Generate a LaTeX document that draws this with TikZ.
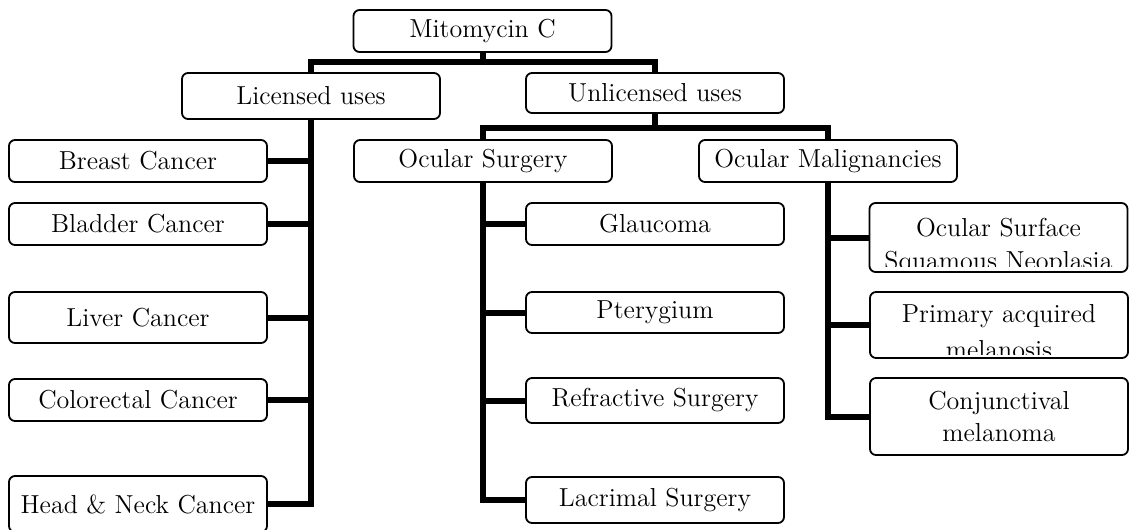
\documentclass[tikz,border=0pt]{standalone}
\usepackage{fontspec}
\tikzset{
	itembox/.style={rectangle,rounded corners=3pt,draw,line width=0.9pt,minimum width=129pt,minimum height=21pt,align=center,font=\fontsize{13}{16}\selectfont},
	boxtext/.style={anchor=base,font=\fontsize{13}{16}\selectfont},
	link/.style={line width=3pt}
}
\begin{document}
\begin{tikzpicture}[x=0.5pt,y=-0.5pt]
				\clip (0,0) rectangle (1132,530);
				
				\begin{scope}[every node/.style={itembox}]
					\node (mito) at (482.5,31) {Mitomycin C};
					\node[minimum height=23pt] (licensed) at (311,96) {Licensed uses};
					\node[minimum height=20pt] (unlicensed) at (655,93) {Unlicensed uses};
					\node (breast) at (138,161) {Breast Cancer};
					\node (bladder) at (138,224) {Bladder Cancer};
					\node[minimum height=25.5pt] (liver) at (138,317.5) {Liver Cancer};
					\node (colorectal) at (138,400) {Colorectal Cancer};
					\node[minimum height=28pt] (headneck) at (138,504) {Head \& Neck Cancer};
					\node (surgery) at (483,161) {Ocular Surgery};
					\node (malig) at (828,161) {Ocular Malignancies};
					\node (glaucoma) at (655,224) {Glaucoma};
					\node[minimum height=20.5pt] (pterygium) at (655,312.5) {Pterygium};
					\node[minimum height=22.5pt] (refractive) at (655,400.5) {Refractive Surgery};
					\node[minimum height=23pt] (lacrimal) at (655,500) {Lacrimal Surgery};
					\node[minimum height=34.5pt] (ossn) at (998.5,237.5) {};
					\node[minimum height=33pt] (pam) at (999,325) {};
					\node[minimum height=38.5pt] (conj) at (999,416.5) {Conjunctival\\melanoma};
				\end{scope}
				
				\begin{scope}
					\clip[rounded corners=3pt] (ossn.north west) rectangle ([yshift=3pt]ossn.south east);
					\node[boxtext] (ossn1) at (998.5,236) {Ocular Surface};
					\node[boxtext] (ossn2) at (998.5,269) {Squamous Neoplasia};
				\end{scope}
				\begin{scope}
					\clip[rounded corners=3pt] (pam.north west) rectangle ([yshift=2pt]pam.south east);
					\node[boxtext] (pam1) at (999,322) {Primary acquired};
					\node[boxtext] (pam2) at (999,358) {melanosis};
				\end{scope}
				
				\coordinate (top) at (482.5,62);
				\coordinate (mid) at (655,127.5);
				\draw[link] (mito.south) -- (top);
				\draw[link] (licensed.north) |- (top) -| (unlicensed.north);
				\draw[link] (unlicensed.south) -- (mid);
				\draw[link] (surgery.north) |- (mid) -| (malig.north);
				
				\draw[link] (licensed.south) |- (headneck.east);
				\foreach \n in {breast,bladder,liver,colorectal}
					\draw[link] (\n.east) -- (\n.east -| licensed.south);
				\draw[link] (surgery.south) |- (lacrimal.west);
				\foreach \n in {glaucoma,pterygium,refractive}
					\draw[link] (\n.west) -- (\n.west -| surgery.south);
				\draw[link] (malig.south) |- (conj.west);
				\foreach \n in {ossn,pam}
					\draw[link] (\n.west) -- (\n.west -| malig.south);
			\end{tikzpicture}
\end{document}
